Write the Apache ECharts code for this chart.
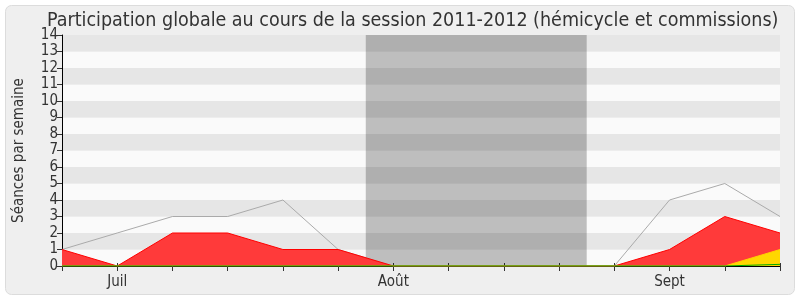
<!DOCTYPE html>
<html>
<head>
<meta charset="utf-8">
<script src="https://cdn.jsdelivr.net/npm/echarts@6/dist/echarts.min.js"></script>
<style>
html,body{margin:0;padding:0;background:#ffffff;}
#c{width:800px;height:300px;}
</style>
</head>
<body>
<div id="c"></div>
<script>
// ---- data ----
var weeks = [0,1,2,3,4,5,6,7,8,9,10,11,12,13];
var tickLabels = ['', 'Juil', '', '', '', '', 'Août', '', '', '', '', 'Sept', '', ''];
var totalSeances = [1,2,3,3,4,1,0,0,0,0,0,4,5,3];
var presenceRed = [1,0,2,2,1,1,0,0,0,0,0,1,3,2];
var presenceYellow = [0,0,0,0,0,0,0,0,0,0,0,0,0,1];
var presenceGreen = [0,0,0,0,0,0,0,0,0,0,0,0,0,0.1];
var vacation = [5.5, 9.5];
var yMax = 14;
var titleText = 'Participation globale au cours de la session 2011-2012 (hémicycle et commissions)';
var yAxisName = 'Séances par semaine';

function pairs(vals){ return weeks.map(function(w,i){ return [w, vals[i]]; }); }

var chart = echarts.init(document.getElementById('c'));
var font = '"DejaVu Sans Condensed", "DejaVu Sans"';
chart.setOption({
  animation: false,
  backgroundColor: '#ffffff',
  graphic: [{
    type: 'rect', z: -10, silent: true,
    shape: {x: 5.5, y: 5.5, width: 789, height: 289, r: 6},
    style: {fill: '#efefef', stroke: '#dcdcdc', lineWidth: 1}
  }],
  title: {
    text: titleText, left: 42, top: 6,
    textStyle: {fontFamily: font, fontSize: 19.5, fontWeight: 'normal', color: '#333'}
  },
  grid: {left: 62, right: 20, top: 35, bottom: 34},
  xAxis: [{
    type: 'value', min: 0, max: 13, interval: 1,
    axisLine: {show: true, onZero: false, lineStyle: {color: '#000', width: 1}},
    axisTick: {show: true, length: 5, lineStyle: {color: '#333'}},
    axisLabel: {
      fontFamily: font, fontSize: 15, color: '#333', margin: 9,
      formatter: function(v){ return tickLabels[Math.round(v)] || ''; }
    },
    splitLine: {show: false}
  }, {
    type: 'value', min: 0, max: 13, interval: 1, position: 'top',
    axisLine: {show: false},
    axisTick: {show: true, length: 3, lineStyle: {color: '#333'}},
    axisLabel: {show: false},
    splitLine: {show: false}
  }],
  yAxis: {
    type: 'value', min: 0, max: yMax, interval: 1,
    name: yAxisName, nameLocation: 'middle', nameGap: 35,
    nameTextStyle: {fontFamily: font, fontSize: 15, color: '#333'},
    axisLine: {show: true, lineStyle: {color: '#000', width: 1}},
    axisTick: {show: true, length: 5, lineStyle: {color: '#333'}},
    axisLabel: {fontFamily: font, fontSize: 15, color: '#333', margin: 4},
    splitLine: {show: false},
    splitArea: {show: true, areaStyle: {color: ['#fafafa', '#e6e6e6']}}
  },
  series: [{
    type: 'line', name: 'total', data: pairs(totalSeances),
    symbol: 'none', lineStyle: {color: '#aaaaaa', width: 1}, z: 2,
    markArea: {
      silent: true,
      itemStyle: {color: 'rgba(0,0,0,0.24)'},
      data: [[{xAxis: vacation[0]}, {xAxis: vacation[1]}]]
    }
  }, {
    type: 'line', name: 'rouge', data: pairs(presenceRed),
    symbol: 'none', lineStyle: {color: '#ff0000', width: 1},
    areaStyle: {color: '#ff3a3a', opacity: 1}, z: 3
  }, {
    type: 'line', name: 'jaune', data: pairs(presenceYellow),
    symbol: 'none', lineStyle: {color: '#ffd000', width: 1},
    areaStyle: {color: '#ffd700', opacity: 1}, z: 4
  }, {
    type: 'line', name: 'vert', data: pairs(presenceGreen),
    symbol: 'none', lineStyle: {color: '#00aa00', width: 1},
    areaStyle: {color: '#33cc33', opacity: 1}, z: 5
  }]
});
</script>
</body>
</html>
